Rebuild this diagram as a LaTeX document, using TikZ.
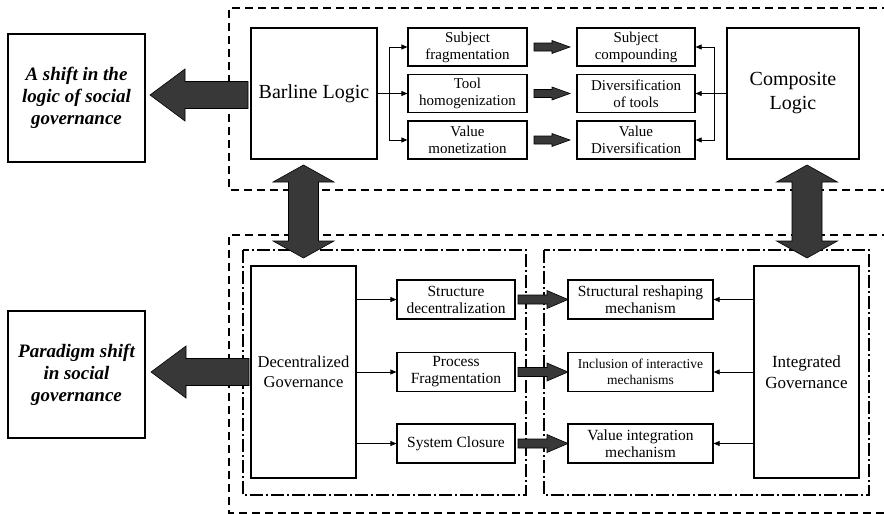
\documentclass[tikz,border=0pt]{standalone}
\usepackage{fontspec}
\setmainfont{Liberation Serif}
\usetikzlibrary{arrows.meta}
\newcommand\hfat[6]{\filldraw[fatarrow] (#1,{#3-#4}) -- ({#2-#6},{#3-#4}) -- ({#2-#6},{#3-#5}) -- (#2,#3) -- ({#2-#6},{#3+#5}) -- ({#2-#6},{#3+#4}) -- (#1,{#3+#4}) -- cycle;}
\newcommand\vdfat[6]{\filldraw[fatarrow] ({#1-#4},{#2+#6}) -- ({#1-#5},{#2+#6}) -- (#1,#2) -- ({#1+#5},{#2+#6}) -- ({#1+#4},{#2+#6}) -- ({#1+#4},{#3-#6}) -- ({#1+#5},{#3-#6}) -- (#1,#3) -- ({#1-#5},{#3-#6}) -- ({#1-#4},{#3-#6}) -- cycle;}
\tikzset{
  box/.style={draw=black, line width=1.2pt, fill=white, align=center, inner sep=1pt},
  bigbox/.style={draw=black, line width=2pt, fill=white, align=center, inner sep=1pt,
     font=\fontsize{19}{22}\selectfont\bfseries\itshape},
  fatarrow/.style={fill=black!78, draw=black, line width=0.6pt},
  outerdash/.style={draw=black, line width=1.1pt, dash pattern=on 8pt off 5pt},
  dashdot/.style={draw=black, line width=1.1pt, dash pattern=on 13pt off 3pt on 2pt off 3pt},
  thin/.style={draw=black, line width=0.7pt},
  thinarrow/.style={thin, -{Triangle[length=6pt,width=5pt]}},
}
\begin{document}
\begin{tikzpicture}[x=1pt,y=-1pt]
\useasboundingbox (0,0) rectangle (884,514);
\begin{scope}
\clip (0,0) rectangle (884,514);
% outer dashed groups (open at right edge)
\draw[outerdash] (890,8) -- (229,8) -- (229,190) -- (890,190);
\draw[outerdash] (890,235) -- (229,235) -- (229,513) -- (890,513);
% inner dash-dot groups
\draw[dashdot] (243,250) rectangle (526,495);
\draw[dashdot] (544,250) rectangle (869,495);
\end{scope}

% left boxes
\node[bigbox, minimum width=137, minimum height=128] (shiftA) at (76.5,98) {A shift in the\\logic of social\\governance};
\node[bigbox, minimum width=137, minimum height=127] (shiftB) at (76.5,374.5) {Paradigm shift\\in social\\governance};

% top group
\node[box, minimum width=126, minimum height=131, font=\fontsize{20}{24}\selectfont] (bar) at (314,93.5) {Barline Logic};
\node[box, minimum width=132, minimum height=131, font=\fontsize{20}{24}\selectfont] (comp) at (793,93.5) {Composite\\Logic};
\tikzset{sbox/.style={box, minimum width=119, minimum height=38, font=\fontsize{15}{17}\selectfont}}
\node[sbox] (s1) at (467.5,47) {Subject\\fragmentation};
\node[sbox] (s2) at (467.5,93.5) {Tool\\homogenization};
\node[sbox] (s3) at (467.5,140) {Value\\monetization};
\node[sbox, minimum width=118] (t1) at (636,47) {Subject\\compounding};
\node[sbox, minimum width=118] (t2) at (636,93.5) {Diversification\\of tools};
\node[sbox, minimum width=118] (t3) at (636,140) {Value\\Diversification};

\coordinate (j1) at (389,93.5);
\draw[thin] (bar.east) -- (j1);
\draw[thinarrow] (j1) |- (s1.west);
\draw[thinarrow] (j1) -- (s2.west);
\draw[thinarrow] (j1) |- (s3.west);
\coordinate (j2) at (714,93.5);
\draw[thin] (comp.west) -- (j2);
\draw[thinarrow] (j2) |- (t1.east);
\draw[thinarrow] (j2) -- (t2.east);
\draw[thinarrow] (j2) |- (t3.east);

\hfat{534}{570}{47}{4}{6.5}{18}
\hfat{534}{570}{93.5}{4}{6.5}{18}
\hfat{534}{570}{140}{4}{6.5}{18}

% bottom group
\node[box, minimum width=105, minimum height=212, font=\fontsize{16.5}{20}\selectfont] (dec) at (303.5,372) {Decentralized\\Governance};
\node[box, minimum width=105, minimum height=212, font=\fontsize{17}{21}\selectfont] (integ) at (806.5,372) {Integrated\\Governance};
\tikzset{dbox/.style={box, minimum width=118, minimum height=39, font=\fontsize{15.5}{17}\selectfont}}
\node[dbox] (d1) at (456,299.5) {Structure\\decentralization};
\node[dbox] (d2) at (456,372) {Process\\Fragmentation};
\node[dbox] (d3) at (456,443.5) {System Closure};
\node[dbox, minimum width=145] (m1) at (640.5,299.5) {Structural reshaping\\mechanism};
\node[dbox, minimum width=145, font=\fontsize{13.5}{16}\selectfont] (m2) at (640.5,372) {Inclusion of interactive\\mechanisms};
\node[dbox, minimum width=145] (m3) at (640.5,443.5) {Value integration\\mechanism};

\foreach \k in {1,2,3}{
  \draw[thinarrow] (dec.east |- d\k.west) -- (d\k.west);
  \draw[thinarrow] (integ.west |- m\k.east) -- (m\k.east);
}

\hfat{518}{568}{299.5}{4.5}{9}{21}
\hfat{518}{568}{372}{4.5}{9}{21}
\hfat{518}{568}{443.5}{4.5}{9}{21}

% big left arrows
\hfat{248}{150}{95}{13.5}{26}{-35}
\hfat{249}{151}{372}{13.5}{26}{-35}

% vertical double arrows
\vdfat{303.5}{165}{258}{15}{30.5}{17}
\vdfat{807}{165}{258}{15}{30.5}{17}
\end{tikzpicture}
\end{document}
